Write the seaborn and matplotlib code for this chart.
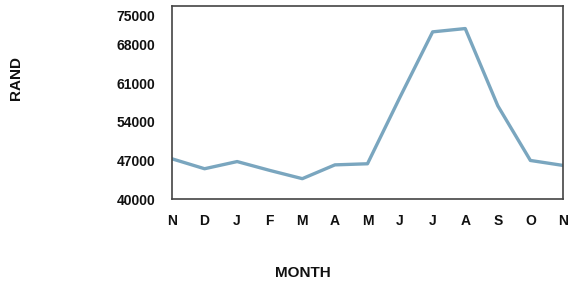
import matplotlib
matplotlib.use("Agg")
import matplotlib.pyplot as plt
import matplotlib.transforms as mtransforms
import numpy as np
import pandas as pd
import seaborn as sns

months = ["N", "D", "J", "F", "M", "A", "M", "J", "J", "A", "S", "O", "N"]
rand = [47300, 45500, 46800, 45200, 43700, 46200, 46400, 58500, 70300, 70900, 56900, 47000, 46100]
yticks = [40000, 47000, 54000, 61000, 68000, 75000]

df = pd.DataFrame({"pos": np.arange(len(months)), "rand": rand})

sns.set_style("white")
plt.rcParams['font.family'] = ['Liberation Sans', 'DejaVu Sans']

fig = plt.figure(figsize=(5.81, 2.82), dpi=100)
ax = fig.add_axes([0.296, 0.294, 0.673, 0.685])

sns.lineplot(data=df, x="pos", y="rand", ax=ax, color="#7aa6bf", linewidth=2.4)

ax.set_xlim(0, len(months) - 1)
ax.set_ylim(40000, 75000)
ax.set_xticks(df["pos"])
ax.set_xticklabels(months, fontweight="bold", fontsize=10, color="#111111")
ax.set_yticks(yticks)
ax.set_yticklabels([str(v) for v in yticks], fontweight="bold", fontsize=10, color="#111111")
ax.tick_params(axis="y", direction="out", length=6, width=1, color="#444444", pad=6)
ax.tick_params(axis="x", length=0, pad=11)
ax.set_xlabel("")
ax.set_ylabel("")
for s in ax.spines.values():
    s.set_color("#444444")
    s.set_linewidth(1.2)

# top label sits a bit lower than its tick
top = ax.get_yticklabels()[-1]
top.set_transform(top.get_transform() + mtransforms.ScaledTranslation(0, -7 / 72, fig.dpi_scale_trans))

fig.text(0.027, 0.723, "RAND", rotation=90, ha="center", va="center", fontweight="bold", fontsize=11, color="#111111")
fig.text(0.522, 0.033, "MONTH", ha="center", va="center", fontweight="bold", fontsize=11, color="#111111")

fig.savefig("out.png", dpi=100)
